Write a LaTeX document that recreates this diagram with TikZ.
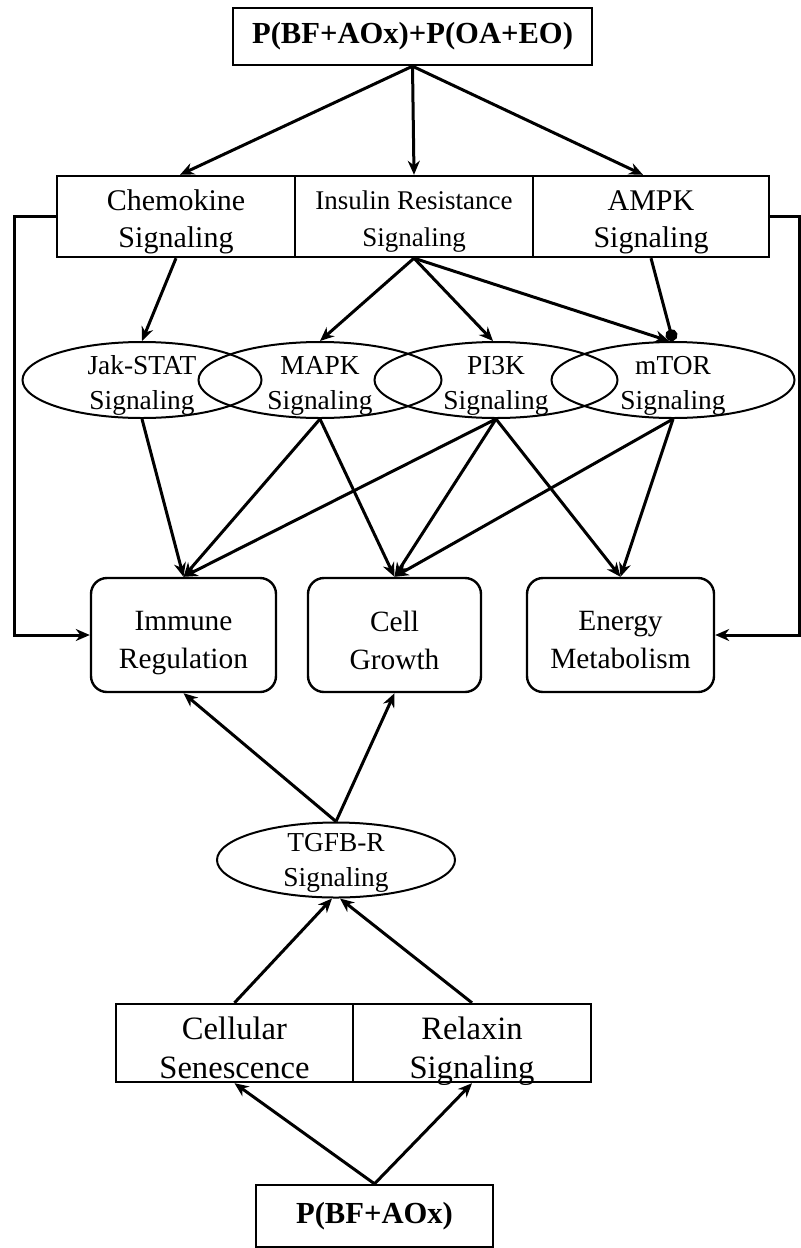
\documentclass[tikz,border=0pt]{standalone}
\usepackage{fontspec}
\setmainfont{Liberation Serif}
\usetikzlibrary{shapes.geometric, arrows.meta, positioning, calc}
\tikzset{
	pathway/.style={rectangle, draw, line width=1.2pt, minimum width=119pt, minimum height=40.5pt, inner sep=0pt},
	boxtext/.style={align=center, inner sep=0pt, yshift=-4pt, font=\fontsize{15}{18.5}\selectfont, execute at end node=\strut},
	sigellipse/.style={ellipse, draw, line width=1pt, minimum width=121.5pt, minimum height=38pt, inner sep=0pt},
	sigtext/.style={align=center, inner sep=0pt, yshift=-4pt, font=\fontsize{13.7}{17.5}\selectfont, execute at end node=\strut},
	outcome/.style={rectangle, rounded corners=8pt, draw, line width=1.2pt, minimum width=92.5pt, minimum height=57pt, inner sep=0pt},
	outtext/.style={align=center, inner sep=0pt, yshift=-5.5pt, font=\fontsize{14.7}{19}\selectfont, execute at end node=\strut},
	treatment/.style={rectangle, draw, line width=1.2pt, minimum width=118.5pt, minimum height=28.5pt, inner sep=0pt, font=\bfseries\fontsize{15.3}{18}\selectfont},
	arrow/.style={line width=1.5pt,-{Stealth[length=7pt, width=6pt]}},
	dotarrow/.style={line width=1.5pt,-{Circle[length=6pt]}}
}
\begin{document}
\begin{tikzpicture}[x=0.5pt, y=-0.5pt]
		\useasboundingbox (0,0) rectangle (801,1248);
		% Tratamientos
		\node [treatment, minimum width=179.5pt] (comb) at (412.5,36.5) {P(BF+AOx)+P(OA+EO)};
		\node [treatment, minimum height=31pt] (bfaox) at (374.5,1216) {P(BF+AOx)};
		
		% Vias de primer nivel
		\node [pathway, label={[boxtext]center:{Chemokine\\Signaling}}] (chem) at (176,216.5) {};
		\node [pathway, label={[boxtext, font=\fontsize{13.5}{18.5}\selectfont]center:{Insulin Resistance\\Signaling}}] (ins) at (414,216.5) {};
		\node [pathway, minimum width=118pt, label={[boxtext]center:{AMPK\\Signaling}}] (ampk) at (651,216.5) {};
		
		% Vias de senalizacion
		\node [sigellipse, minimum width=119.5pt, label={[sigtext]center:{Jak-STAT\\Signaling}}] (jak) at (142,380) {};
		\node [sigellipse, label={[sigtext]center:{MAPK\\Signaling}}] (mapk) at (320,380) {};
		\node [sigellipse, label={[sigtext]center:{PI3K\\Signaling}}] (pi3k) at (496,380) {};
		\node [sigellipse, label={[sigtext]center:{mTOR\\Signaling}}] (mtor) at (673,380) {};
		
		% Efectos
		\node [outcome, label={[outtext]center:{Immune\\Regulation}}] (immune) at (183.5,635) {};
		\node [outcome, minimum width=86.5pt, label={[outtext]center:{Cell\\Growth}}] (growth) at (394.5,635) {};
		\node [outcome, minimum width=93.5pt, label={[outtext]center:{Energy\\Metabolism}}] (energy) at (620.5,635) {};
		
		% Rama inferior
		\node [sigellipse, minimum width=119pt, minimum height=37.5pt, label={[sigtext, yshift=1.5pt]center:{TGFB-R\\Signaling}}] (tgfb) at (336,860) {};
		\node [pathway, minimum width=118.5pt, minimum height=39pt, label={[boxtext, yshift=-1.5pt, font=\fontsize{16.3}{19.5}\selectfont]center:{Cellular\\Senescence}}] (senes) at (234.5,1043) {};
		\node [pathway, minimum height=39pt, label={[boxtext, yshift=-1.5pt, font=\fontsize{16.3}{19.5}\selectfont]center:{Relaxin\\Signaling}}] (relax) at (472,1043) {};
		
		\coordinate (lbend) at (14,635);
		\coordinate (rbend) at (799,635);
		
		% Flechas superiores
		\draw [arrow] (comb.south) -- ([xshift=2pt]chem.north);
		\draw [arrow] (comb.south) -- (ins.north);
		\draw [arrow] (comb.south) -- ([xshift=-4pt]ampk.north);
		\draw [arrow] (chem.south) -- (jak.north);
		\draw [arrow] (ins.south) -- (mapk.north);
		\draw [arrow] (ins.south) -- ([xshift=-1.5pt]pi3k.north);
		\draw [arrow] (ins.south) -- ([xshift=-2pt]mtor.north);
		\draw [dotarrow] (ampk.south) -- (mtor.north);
		
		% Flechas hacia los efectos
		\draw [arrow] (jak.south) -- (immune.north);
		\draw [arrow] (mapk.south) -- (immune.north);
		\draw [arrow] (mapk.south) -- (growth.north);
		\draw [arrow] (pi3k.south) -- (immune.north);
		\draw [arrow] (pi3k.south) -- (growth.north);
		\draw [arrow] (pi3k.south) -- (energy.north);
		\draw [arrow] (mtor.south) -- (growth.north);
		\draw [arrow] (mtor.south) -- (energy.north);
		
		% Retroalimentacion lateral
		\draw [arrow] (chem.west) -| (lbend) -- (immune.west);
		\draw [arrow] (ampk.east) -| (rbend) -- (energy.east);
		
		% Flechas inferiores
		\draw [arrow] (tgfb.north) -- (immune.south);
		\draw [arrow] (tgfb.north) -- (growth.south);
		\draw [arrow] (senes.north) -- ([xshift=-2pt]tgfb.south);
		\draw [arrow] (relax.north) -- ([xshift=2pt]tgfb.south);
		\draw [arrow] (bfaox.north) -- (senes.south);
		\draw [arrow] (bfaox.north) -- (relax.south);
	\end{tikzpicture}
\end{document}
